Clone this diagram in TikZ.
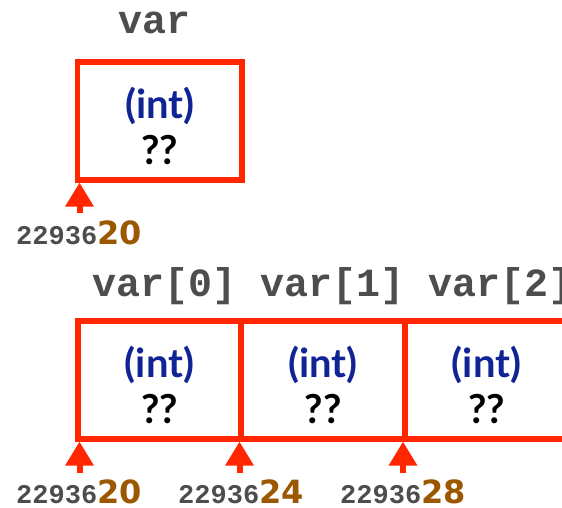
\documentclass[tikz,border=0pt]{standalone}
\usepackage{fontspec}
\setmainfont{Lato}
\setmonofont{Liberation Mono}
\newfontfamily\addrsans{DejaVu Sans}
\usetikzlibrary{arrows.meta}
\definecolor{boxred}{RGB}{255,38,0}
\definecolor{intblue}{RGB}{16,36,150}
\definecolor{labgray}{RGB}{77,77,77}
\definecolor{addrbrown}{RGB}{155,88,0}
\tikzset{
  x=1pt, y=-1pt,
  cell/.style={draw=boxred, fill=white, line width=6pt, minimum width=164pt, minimum height=118pt,
    inner sep=0pt, align=center, font=\bfseries\fontsize{40}{46}\selectfont},
  varlabel/.style={anchor=base west, inner sep=0pt, text=labgray, font=\ttfamily\bfseries\fontsize{40}{40}\selectfont},
  addrlabel/.style={anchor=base west, inner sep=0pt},
  addrarrow/.style={draw=boxred, line width=6pt, -{Triangle[width=27pt,length=24pt]}, shorten >=0pt},
}
\newcommand{\addrtext}[1]{{\ttfamily\bfseries\fontsize{27}{27}\selectfont\color{labgray}22936}{\addrsans\bfseries\fontsize{32}{32}\selectfont\color{addrbrown}#1}}
\newcommand{\celltext}{\raisebox{-5pt}[\height][\depth]{\textcolor{intblue}{(int)}}\\\raisebox{-5pt}[\height][\depth]{??}}
\begin{document}
\begin{tikzpicture}
\useasboundingbox (0,0) rectangle (562,507);
% single variable
\node[varlabel] (lvar) at (118,33) {var};
\node[cell, line width=5.5pt, minimum width=164.5pt] (v) at (159.75,120.75) {\celltext};
\coordinate (av) at (79.5,213);
\draw[addrarrow] (av) -- (av |- v.south);
\node[addrlabel] (adv) at (16,244) {\addrtext{20}};
% array
\node[varlabel] (l0) at (92,296) {var[0]};
\node[varlabel] (l1) at (260,296) {var[1]};
\node[varlabel] (l2) at (428,296) {var[2]};
\node[cell] (c0) at (159.5,379.5) {\celltext};
\node[cell] (c1) at (323,379.5) {\celltext};
\node[cell] (c2) at (486.5,379.5) {\celltext};
\coordinate (a0) at (79.5,473);
\coordinate (a1) at (239.5,473);
\coordinate (a2) at (403,473);
\draw[addrarrow] (a0) -- (a0 |- c0.south);
\draw[addrarrow] (a1) -- (a1 |- c1.south);
\draw[addrarrow] (a2) -- (a2 |- c2.south);
\node[addrlabel] (ad0) at (16,503) {\addrtext{20}};
\node[addrlabel] (ad1) at (178,503) {\addrtext{24}};
\node[addrlabel] (ad2) at (340,503) {\addrtext{28}};
\end{tikzpicture}
\end{document}
